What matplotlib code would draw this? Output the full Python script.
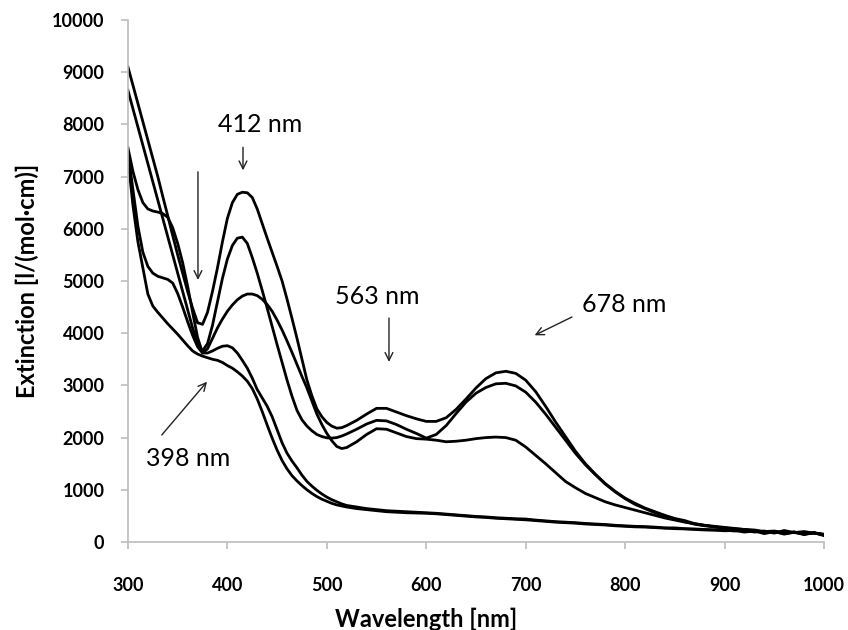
import matplotlib
matplotlib.use("Agg")
import matplotlib.pyplot as plt
import numpy as np

# wavelength grid: 5 nm steps up to 520 nm, 10 nm steps after that
wl_fine = list(range(300, 521, 5))
wl_coarse = list(range(530, 1001, 10))
wavelength = wl_fine + wl_coarse

# extinction spectra, l/(mol*cm)
spec_a = [9100, 8750, 8400, 8050, 7700, 7350, 7000, 6620, 6250, 5870,
          5500, 5150, 4800, 4480, 4200, 4170, 4400, 4800, 5250, 5750,
          6200, 6500, 6660, 6700, 6690, 6600, 6380, 6100, 5820, 5550,
          5280, 5000, 4650, 4280, 3900, 3500, 3100, 2800, 2550, 2400,
          2290, 2220, 2180, 2190, 2230,
          2330, 2450, 2560, 2560, 2490, 2420, 2360, 2310, 2310, 2380,
          2540, 2740, 2950, 3130, 3240, 3270, 3230, 3100, 2880, 2600,
          2300, 2020, 1740, 1500, 1300, 1120, 970, 840, 740, 650,
          580, 510, 450, 410, 350, 320, 290, 270, 250, 240,
          210, 190, 200, 170, 180, 160, 170, 140]

spec_b = [8650, 8300, 7950, 7600, 7250, 6900, 6550, 6200, 5850, 5500,
          5150, 4800, 4450, 4100, 3800, 3660, 3800, 4150, 4600, 5050,
          5420, 5680, 5820, 5840, 5720, 5450, 5150, 4820, 4480, 4130,
          3780, 3440, 3100, 2790, 2520, 2340, 2220, 2130, 2060, 2020,
          1995, 1990, 2000, 2030, 2070,
          2160, 2260, 2330, 2320, 2250, 2160, 2080, 1990, 2060, 2230,
          2460, 2680, 2850, 2960, 3030, 3040, 2990, 2870, 2680, 2450,
          2200, 1950, 1700, 1480, 1290, 1110, 960, 830, 720, 640,
          560, 500, 440, 390, 340, 310, 290, 260, 250, 230,
          220, 180, 200, 160, 190, 150, 180, 140]

spec_c = [7550, 7100, 6750, 6500, 6380, 6340, 6320, 6290, 6220, 6020,
          5720, 5350, 4900, 4400, 3920, 3620, 3700, 3900, 4100, 4270,
          4420, 4540, 4640, 4710, 4750, 4750, 4720, 4650, 4550, 4420,
          4250, 4060, 3850, 3630, 3400, 3170, 2950, 2700, 2450, 2250,
          2080, 1940, 1830, 1790, 1810,
          1920, 2060, 2170, 2160, 2090, 2020, 1980, 1970, 1950, 1920,
          1930, 1950, 1980, 2000, 2010, 2000, 1950, 1820, 1660, 1500,
          1330, 1160, 1040, 930, 850, 770, 710, 660, 610, 560,
          510, 460, 420, 380, 350, 320, 300, 280, 260, 240,
          230, 200, 210, 180, 190, 160, 170, 140]

spec_d = [7480, 6750, 6050, 5550, 5280, 5150, 5090, 5060, 5030, 4960,
          4760, 4500, 4220, 3960, 3740, 3620, 3620, 3660, 3710, 3750,
          3760, 3720, 3620, 3480, 3330, 3140, 2920, 2760, 2600, 2400,
          2150, 1900, 1700, 1550, 1420, 1280, 1160, 1070, 990, 920,
          860, 810, 770, 730, 700,
          670, 640, 620, 600, 590, 580, 570, 560, 550, 535,
          520, 505, 490, 480, 465, 455, 445, 440, 420, 405,
          390, 380, 370, 355, 345, 335, 320, 310, 300, 295,
          285, 270, 270, 255, 250, 240, 235, 230, 210, 230,
          190, 210, 170, 220, 180, 200, 170, 150]

spec_e = [7350, 6450, 5750, 5250, 4750, 4520, 4400, 4290, 4180, 4080,
          3980, 3870, 3760, 3660, 3600, 3560, 3530, 3500, 3480, 3440,
          3380, 3330, 3260, 3180, 3080, 2940, 2740, 2500, 2240, 1990,
          1760, 1560, 1400, 1270, 1170, 1080, 1000, 930, 870, 820,
          780, 740, 710, 690, 670,
          640, 620, 600, 580, 570, 560, 555, 550, 540, 525,
          510, 495, 480, 470, 455, 445, 435, 425, 410, 395,
          380, 370, 360, 345, 335, 325, 310, 300, 290, 285,
          275, 265, 255, 250, 240, 230, 225, 215, 220, 190,
          210, 160, 200, 150, 190, 140, 180, 120]

spectra = [spec_a, spec_b, spec_c, spec_d, spec_e]

x_ticks = list(range(300, 1001, 100))
y_ticks = list(range(0, 10001, 1000))

# peak labels: (text, text position, arrow tail, arrow head)
peak_notes = [
    ("412 nm", (433, 8000), (415.7, 7560), (415.7, 7120)),
    ("563 nm", (551, 4700), (562.5, 4290), (562.5, 3450)),
    ("678 nm", (799, 4540), (746.5, 4310), (709, 3960)),
    ("398 nm", (361, 1600), (334, 2050), (379.5, 3070)),
]
drop_arrow = ((370.4, 7090), (370.4, 5020))

fig = plt.figure(figsize=(8.48, 6.30), dpi=100)
ax = fig.add_axes([0.1509, 0.1397, 0.8208, 0.8286])

for s in spectra:
    ax.plot(wavelength, s, color="black", lw=2.0, solid_joinstyle="round")

ax.set_xlim(300, 1000)
ax.set_ylim(0, 10000)
ax.set_xticks(x_ticks)
ax.set_yticks(y_ticks)

for side in ("top", "right"):
    ax.spines[side].set_visible(False)
for side in ("left", "bottom"):
    ax.spines[side].set_color("#bcbcbc")
    ax.spines[side].set_linewidth(1.2)

ax.tick_params(axis="both", colors="#bcbcbc", length=5, width=1.2, direction="out")
ax.tick_params(axis="x", pad=20)
ax.tick_params(axis="y", pad=12)
for lab in ax.get_xticklabels() + ax.get_yticklabels():
    lab.set_color("black")
    lab.set_fontfamily("Lato")
    lab.set_fontweight("bold")
    lab.set_fontsize(13)

ax.set_xlabel("Wavelength [nm]", fontfamily="Lato", fontweight="bold", fontsize=17)
ax.set_ylabel("Extinction [l/(mol·cm)]", fontfamily="Lato", fontweight="bold", fontsize=17)
ax.xaxis.set_label_coords(0.428, -0.125)
ax.yaxis.set_label_coords(-0.128, 0.5)

arrow_kw = dict(arrowstyle="->", color="#222222", lw=1.0, shrinkA=0, shrinkB=0,
                mutation_scale=14)
for text, tpos, tail, head in peak_notes:
    ax.text(tpos[0], tpos[1], text, fontfamily="Lato", fontsize=18,
            ha="center", va="center")
    ax.annotate("", xy=head, xytext=tail, arrowprops=arrow_kw)
ax.annotate("", xy=drop_arrow[1], xytext=drop_arrow[0], arrowprops=arrow_kw)

fig.savefig("out.png", dpi=100)
